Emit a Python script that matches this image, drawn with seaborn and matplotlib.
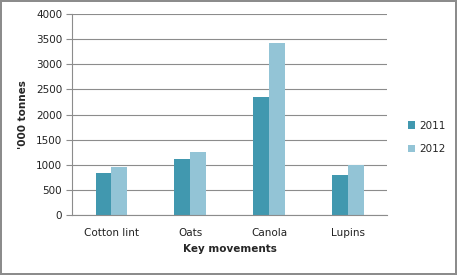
import matplotlib
matplotlib.use("Agg")
import matplotlib.pyplot as plt
import seaborn as sns
import pandas as pd

categories = ["Cotton lint", "Oats", "Canola", "Lupins"]
years = ["2011", "2012"]
values_2011 = [840, 1120, 2350, 800]
values_2012 = [960, 1260, 3430, 990]
yticks = [0, 500, 1000, 1500, 2000, 2500, 3000, 3500, 4000]

df = pd.DataFrame({
    "cat": categories * 2,
    "year": [years[0]] * 4 + [years[1]] * 4,
    "val": values_2011 + values_2012,
})

sns.set_style("white")
plt.rcParams['font.family'] = ['DejaVu Sans']

fig = plt.figure(figsize=(4.57, 2.75), dpi=100)
fig.patch.set_edgecolor("#8c8c8c")
fig.patch.set_linewidth(1.5)
ax = fig.add_axes([0.1575, 0.218, 0.69, 0.731])

palette = {"2011": "#4198AF", "2012": "#93C4D6"}
sns.barplot(data=df, x="cat", y="val", hue="year", palette=palette,
            width=0.4, gap=0, saturation=1, ax=ax, legend=True,
            edgecolor="none", linewidth=0)

ax.set_ylim(0, 4000)
ax.set_xlim(-0.5, 3.5)
ax.set_yticks(yticks)
ax.set_yticklabels([str(t) for t in yticks], fontsize=7.5, color="#222222")
ax.tick_params(axis="x", labelsize=7.5, length=0, pad=9, colors="#222222")
ax.tick_params(axis="y", length=4, width=0.8, color="#8c8c8c", pad=3, left=True)
ax.grid(axis="y", color="#8c8c8c", linewidth=0.8)
ax.set_axisbelow(True)
for s in ["top", "right"]:
    ax.spines[s].set_visible(False)
ax.spines["left"].set_color("#8c8c8c")
ax.spines["bottom"].set_color("#8c8c8c")
ax.spines["left"].set_linewidth(0.8)
ax.spines["bottom"].set_linewidth(0.8)

ax.set_xlabel("Key movements", fontsize=7.5, fontweight="bold", labelpad=5)
ax.set_ylabel("'000 tonnes", fontsize=7.5, fontweight="bold", labelpad=6)

leg = ax.legend(loc="center left", bbox_to_anchor=(1.035, 0.386), frameon=False,
                fontsize=7.5, handlelength=0.7, handleheight=0.7,
                handletextpad=0.4, labelspacing=1.3)

fig.savefig("out.png", dpi=100)
